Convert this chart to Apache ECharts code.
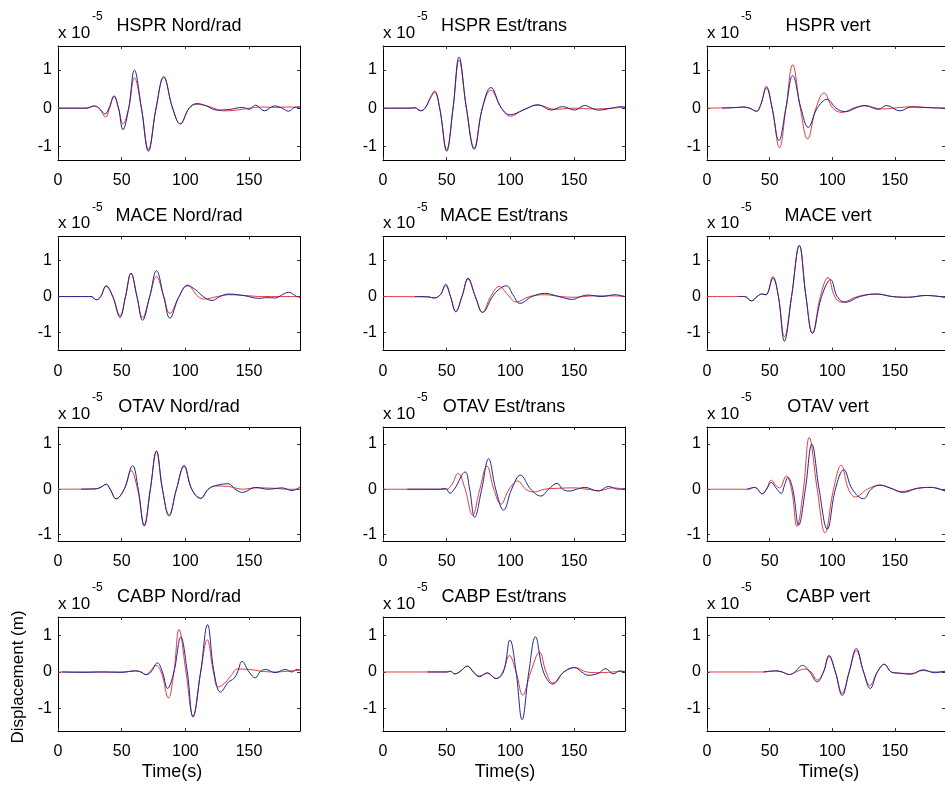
<!DOCTYPE html>
<html><head><meta charset="utf-8">
<script src="https://cdn.jsdelivr.net/npm/echarts@6/dist/echarts.min.js"></script>
<style>html,body{margin:0;padding:0;background:#fff}#c{width:945px;height:787px}</style>
</head><body><div id="c"></div>
<script>
// ---------- data (time s, displacement x1e-5 m) ----------
const xTicks = [0, 50, 100, 150];
const yTicks = [-1, 0, 1];
const rowYMin = [-1.35, -1.5, -1.14, -1.61];
const rowYMax = [1.62, 1.67, 1.37, 1.5];
const titles = [
  'HSPR Nord/rad', 'HSPR Est/trans', 'HSPR vert',
  'MACE Nord/rad', 'MACE Est/trans', 'MACE vert',
  'OTAV Nord/rad', 'OTAV Est/trans', 'OTAV vert',
  'CABP Nord/rad', 'CABP Est/trans', 'CABP vert'
];

const hsprNordObs = [[0,0],[22,0],[28.5,0.06],[32,0.01],[37,-0.15],[40,0],[44,0.32],[47.5,0],[51,-0.56],[55.5,0],[60,0.99],[65.5,0],[71,-1.12],[77,0],[83,0.82],[90,0],[96,-0.41],[103,0],[109,0.12],[115,0.08],[125,-0.05],[135,-0.03],[145,0.02],[150,-0.03],[155,0.08],[162,-0.07],[170,0.06],[176,0],[181,-0.08],[186,0.02],[190,0.03]];
const hsprNordSyn = [[0,0],[22,0],[28.5,0.05],[32,0],[37.5,-0.23],[40.5,0],[44,0.3],[47.5,0],[51,-0.41],[55.5,0],[60,0.79],[65.5,0],[71,-1.07],[77,0],[83,0.8],[90,0],[96,-0.41],[103,0],[109,0.1],[118,0.05],[130,-0.07],[140,-0.05],[150,0],[160,0.03],[170,0.02],[180,0.03],[190,0.03]];

const hsprEstObs = [[0,0],[20,0],[25,0.01],[29.5,-0.07],[33,0],[37,0.25],[40.5,0.42],[44.5,0],[50,-1.12],[55,0],[59.7,1.33],[65.5,0],[71.6,-1.07],[78,0],[84.7,0.54],[93,0],[100,-0.17],[110,-0.05],[121.6,0.09],[132,-0.05],[141,0.04],[150.5,-0.05],[158.4,0.07],[164,0],[169,-0.05],[179.5,0],[187,0.04],[190,0.03]];
const hsprEstSyn = [[0,0],[20,0],[25,0.01],[29.5,-0.06],[33,0],[37,0.27],[40.5,0.45],[44.5,0],[50,-1.07],[55,0],[59.7,1.25],[65.5,0],[71.6,-1.03],[78,0],[84.7,0.47],[93,0],[100,-0.21],[110,-0.05],[121.6,0.08],[135,-0.03],[150,0],[165,-0.02],[180,0],[190,0.03]];

const hsprVertObs = [[12,0],[25,0.02],[29,0.03],[34,0],[39.5,-0.08],[43,0.1],[47.4,0.53],[52,0],[57.4,-0.84],[63,0],[68.4,0.85],[75,0],[80.8,-0.5],[88,0],[96,0.23],[103,0],[110.5,-0.09],[120,0.02],[126,0.07],[136.8,-0.03],[143.4,0.07],[154,-0.07],[163,0.03],[171,0.02],[180,0.01],[190,0]];
const hsprVertSyn = [[0,0],[25,0.02],[29,0.03],[34,0],[39.5,-0.08],[43,0.1],[47.4,0.57],[52,0],[57.9,-1.03],[63,0],[68.4,1.13],[74.5,0],[80.3,-0.8],[87,0],[93.4,0.4],[100.5,0],[107.9,-0.11],[118,0.02],[126,0.06],[140,-0.02],[155,0.02],[165,0.04],[175,0.02],[190,0]];

const maceNordObs = [[0,0],[26,0],[30,-0.09],[33.5,0],[37.8,0.3],[43,0],[48.7,-0.58],[53,0],[57.3,0.65],[62,0],[66.4,-0.66],[72,0],[77.3,0.72],[83,0],[87.8,-0.6],[95,0],[101.6,0.3],[108,0.19],[114,0],[121,-0.11],[127,0],[134,0.07],[147,0.02],[157.5,-0.05],[164,-0.03],[170.6,-0.04],[176,0.05],[181,0.12],[187.5,0],[190,-0.02]];
const maceNordSyn = [[0,0],[26,0],[30,-0.09],[33.5,0],[37.8,0.28],[43,0],[48.7,-0.53],[53,0],[57.3,0.65],[62,0],[66.4,-0.59],[72,0],[77.3,0.56],[83,0],[87.8,-0.47],[95,0],[101.6,0.32],[110,0],[115,-0.07],[125,0],[135,0.05],[150,0.02],[160,0],[175,0],[190,0]];

const maceEstObs = [[25,0],[36,-0.01],[40,-0.04],[45,0.05],[49.2,0.34],[53,0],[57.1,-0.42],[62,0],[66.8,0.51],[72.5,0],[78.2,-0.44],[86,0],[91,0.2],[97,0.3],[102,0.05],[107.5,-0.19],[117,0],[127,0.09],[138,0],[149,-0.08],[155,0],[161,0.04],[171.6,0],[182,0.05],[190,0]];
const maceEstSyn = [[0,0],[36,-0.01],[40,-0.04],[45,0.05],[49.2,0.3],[53,0],[57.1,-0.42],[62,0],[66.8,0.48],[72.5,0],[78.2,-0.44],[84.5,0],[91.3,0.28],[98,0.05],[104.5,-0.15],[115,0],[127,0.05],[140,0],[150,-0.02],[165,0.02],[180,0.02],[190,0]];

const maceVertObs = [[25,0],[30,0],[35.5,-0.12],[40,0],[43.5,0.07],[47,0.05],[52.6,0.51],[57,0],[61.8,-1.24],[67.5,0],[73.7,1.42],[79,0],[84.2,-1.02],[91.5,0],[98.7,0.47],[104,0],[110.5,-0.16],[122,0],[135.5,0.07],[148,0],[160,-0.02],[175,0.03],[190,-0.02]];
const maceVertSyn = [[0,0],[30,0],[35.5,-0.12],[40,0],[43.5,0.07],[47,0.05],[52.6,0.56],[57,0],[61.8,-1.12],[67.5,0],[73.7,1.42],[79,0],[84.2,-1.02],[90.5,0],[96.6,0.53],[102,0],[107.9,-0.16],[120,0],[135.5,0.07],[148,0],[160,-0.02],[175,0.03],[190,-0.02]];

const otavNordObs = [[18,0],[30,0.01],[34,0.05],[37.8,0.11],[41,0],[45.6,-0.21],[52,0],[58.6,0.52],[63,0],[67.7,-0.81],[72.5,0],[77.3,0.84],[82,0],[87.2,-0.59],[93,0],[99,0.52],[105,0],[112,-0.2],[118,0],[123.7,0.08],[134,0.12],[139,0],[145,-0.07],[155,0.04],[165,0],[176,0.03],[183.6,-0.03],[190,0.05]];
const otavNordSyn = [[0,0],[30,0.01],[34,0.05],[37.8,0.11],[41,0],[45.6,-0.21],[52,0],[57.3,0.41],[62.5,0],[67.7,-0.78],[72.5,0],[77.3,0.84],[82,0],[87.2,-0.56],[93,0],[99,0.5],[105,0],[112,-0.2],[118,0],[123.7,0.07],[134,0.06],[145,0],[155,0.03],[170,0.02],[180,0],[190,0]];

const otavEstObs = [[19,0],[30,0],[45,0],[49,0.02],[52.6,-0.09],[56,0],[64.5,0.38],[68,0],[72,-0.62],[77.5,0],[82.9,0.67],[88.5,0],[94.7,-0.46],[101,0],[107.9,0.31],[116,0],[124,-0.15],[130,0],[136.8,0.13],[141,0],[146.6,-0.04],[152,0],[158.4,0.04],[169,-0.04],[177,0.06],[184.7,0],[190,0.01]];
const otavEstSyn = [[0,0],[45,0],[50,0],[54,0.1],[59,0.35],[64.5,0],[70.3,-0.57],[76,0],[81.6,0.51],[87,0],[92.6,-0.33],[99,0],[105.8,0.18],[112,0],[118.4,-0.06],[127,0],[137,0.02],[150,0.03],[160,0],[170,-0.03],[180,0.03],[190,0]];

const otavVertObs = [[32,0],[38,0.04],[44.2,-0.1],[47.5,0],[51.3,0.15],[55,0.03],[59.2,-0.09],[62,0.1],[64.5,0.26],[68.5,0],[73.2,-0.79],[78.5,0],[83.7,0.99],[89.5,0],[96,-0.88],[102.5,0],[109.2,0.43],[116,0],[125,-0.21],[131,0],[138,0.09],[146,0.03],[156.6,-0.07],[168,0.02],[179,0.04],[190,-0.04]];
const otavVertSyn = [[0,0],[33,0],[38,0.04],[44.2,-0.1],[47.5,0],[51.3,0.2],[55,0.08],[57.9,0.03],[63.2,0.29],[67.5,0],[71.8,-0.82],[77,0],[81.6,1.14],[88,0],[94.2,-0.96],[101,0],[107.1,0.53],[113,0],[118.4,-0.17],[128,0],[138,0.09],[146,0.03],[155,-0.05],[168,0.02],[179,0.04],[190,-0.04]];

const cabpNordObs = [[3,0],[20,-0.01],[35,0],[50,-0.01],[61,0.03],[65,0],[69,-0.07],[73,0],[78,0.25],[82,0],[86,-0.45],[91,0],[96.4,0.95],[101.5,0],[106,-1.23],[112,0],[117.4,1.29],[122.5,0],[127.6,-0.55],[134,-0.27],[138,-0.18],[141,0],[144.5,0.29],[150,0],[155,-0.16],[158.5,0],[162.8,0.07],[170.6,-0.02],[178.4,0.07],[183.6,0],[187.5,0.07],[190,0.05]];
const cabpNordSyn = [[0,0],[50,0],[61,0.03],[65,0],[69,-0.07],[73,0.05],[76.8,0.18],[81,0],[86.7,-0.71],[91,0],[95,1.16],[100.5,0],[106,-1.2],[112,0],[117.2,0.88],[122,0],[125.8,-0.41],[131,-0.3],[136,-0.09],[141,0.08],[150,0.07],[160,0.02],[170,0],[180,0.02],[190,0.05]];

const cabpEstObs = [[35,0],[50,0],[53,0.02],[56.3,-0.05],[60,0],[66.3,0.16],[71,0],[75.5,-0.13],[82,-0.02],[88.7,-0.18],[94.5,0],[99.7,0.87],[104.5,0],[109.2,-1.3],[114.5,0],[119.7,0.96],[126,0],[133.4,-0.33],[142,0],[150.5,0.12],[156,0],[161,-0.09],[169,-0.04],[174.7,0.09],[180.8,-0.05],[186,0.03],[190,0]];
const cabpEstSyn = [[0,0],[50,0],[53,0.02],[56.3,-0.05],[60,0],[66.3,0.16],[71,0],[75.5,-0.11],[82,-0.04],[88.7,-0.18],[94,0],[99.2,0.45],[104.5,0],[109.7,-0.63],[116,0],[122.9,0.54],[128,0],[133.4,-0.3],[142,0],[150.5,0.12],[160,0],[170,-0.02],[180,0],[190,0.02]];

const cabpVertObs = [[45,0],[55,0.03],[60,0],[65.8,-0.07],[70,0],[76.3,0.18],[82,0],[88,-0.27],[93,0],[97.4,0.45],[102.5,0],[107.9,-0.64],[113.5,0],[119.2,0.64],[125,0],[130.3,-0.45],[136,0],[141.6,0.21],[147,0],[152.6,-0.03],[163,-0.06],[172.4,0.06],[181.6,-0.02],[190,0.02]];
const cabpVertSyn = [[0,0],[45,0],[55,0.03],[60,0],[65.8,-0.07],[71,0],[78,0.08],[83,0],[88,-0.22],[93,0],[97.4,0.42],[102.5,0],[107.9,-0.58],[113.5,0],[119.2,0.58],[125,0],[130,-0.37],[136,0],[141.6,0.21],[147,0],[152.6,-0.03],[163,-0.04],[172.4,0.04],[181.6,0],[190,0.02]];

const observed = [hsprNordObs, hsprEstObs, hsprVertObs, maceNordObs, maceEstObs, maceVertObs,
                  otavNordObs, otavEstObs, otavVertObs, cabpNordObs, cabpEstObs, cabpVertObs];
const synthetic = [hsprNordSyn, hsprEstSyn, hsprVertSyn, maceNordSyn, maceEstSyn, maceVertSyn,
                   otavNordSyn, otavEstSyn, otavVertSyn, cabpNordSyn, cabpEstSyn, cabpVertSyn];

// ---------- layout ----------
const FONT = '"Liberation Sans", Arial, Helvetica, sans-serif';
const colLeft = [58, 383, 707];
const rowTop = [46, 236.5, 427, 617];
const plotW = 242, plotH = 114;
const timeLabelX = [172, 505, 829];

const chart = echarts.init(document.getElementById('c'), null, {renderer: 'canvas'});
const grid = [], xAxis = [], yAxis = [], series = [], graphic = [];

for (let r = 0; r < 4; r++) {
  for (let c = 0; c < 3; c++) {
    const i = r * 3 + c;
    grid.push({left: colLeft[c], top: rowTop[r], width: plotW, height: plotH, show: false});
    const tickCommon = {show: true, inside: true, length: 3, customValues: xTicks, lineStyle: {color: '#333', width: 1}};
    const lineCommon = {show: true, onZero: false, lineStyle: {color: '#000', width: 1}};
    xAxis.push({type: 'value', gridIndex: i, position: 'bottom', min: 0, max: 190,
      axisLine: lineCommon, axisTick: tickCommon,
      axisLabel: {show: true, customValues: xTicks, fontSize: 16, fontFamily: FONT, color: '#000', margin: 13},
      splitLine: {show: false}});
    xAxis.push({type: 'value', gridIndex: i, position: 'top', min: 0, max: 190,
      axisLine: lineCommon, axisTick: tickCommon, axisLabel: {show: false}, splitLine: {show: false}});
    const yTickCommon = {show: true, inside: true, length: 3, customValues: yTicks, lineStyle: {color: '#333', width: 1}};
    yAxis.push({type: 'value', gridIndex: i, position: 'left', min: rowYMin[r], max: rowYMax[r],
      axisLine: lineCommon, axisTick: yTickCommon,
      axisLabel: {show: true, customValues: yTicks, fontSize: 16, fontFamily: FONT, color: '#000', margin: 6},
      splitLine: {show: false}});
    yAxis.push({type: 'value', gridIndex: i, position: 'right', min: rowYMin[r], max: rowYMax[r],
      axisLine: lineCommon, axisTick: yTickCommon, axisLabel: {show: false}, splitLine: {show: false}});

    series.push({type: 'line', xAxisIndex: 2 * i, yAxisIndex: 2 * i, data: synthetic[i],
      showSymbol: false, smooth: 0.4, lineStyle: {color: '#e03a3e', width: 1}, z: 2, silent: true});
    series.push({type: 'line', xAxisIndex: 2 * i, yAxisIndex: 2 * i, data: observed[i],
      showSymbol: false, smooth: 0.4, lineStyle: {color: '#24248f', width: 1}, z: 3, silent: true});

    graphic.push({type: 'text', x: colLeft[c], y: rowTop[r] - 13,
      style: {text: 'x 10', font: '17px ' + FONT, fill: '#000', textAlign: 'left', textVerticalAlign: 'middle'}});
    graphic.push({type: 'text', x: colLeft[c] + 34, y: rowTop[r] - 29,
      style: {text: '-5', font: '12px ' + FONT, fill: '#000', textAlign: 'left', textVerticalAlign: 'middle'}});
    graphic.push({type: 'text', x: colLeft[c] + plotW / 2, y: rowTop[r] - 20,
      style: {text: titles[i], font: '18px ' + FONT, fill: '#000', textAlign: 'center', textVerticalAlign: 'middle'}});
    if (r === 3) {
      graphic.push({type: 'text', x: timeLabelX[c], y: rowTop[r] + plotH + 41,
        style: {text: 'Time(s)', font: '18px ' + FONT, fill: '#000', textAlign: 'center', textVerticalAlign: 'middle'}});
    }
  }
}
graphic.push({type: 'text', x: 18, y: 677, rotation: Math.PI / 2,
  style: {text: 'Displacement (m)', font: '17px ' + FONT, fill: '#000', textAlign: 'center', textVerticalAlign: 'middle'}});

chart.setOption({
  animation: false,
  backgroundColor: '#fff',
  grid, xAxis, yAxis, series, graphic
});
</script></body></html>
